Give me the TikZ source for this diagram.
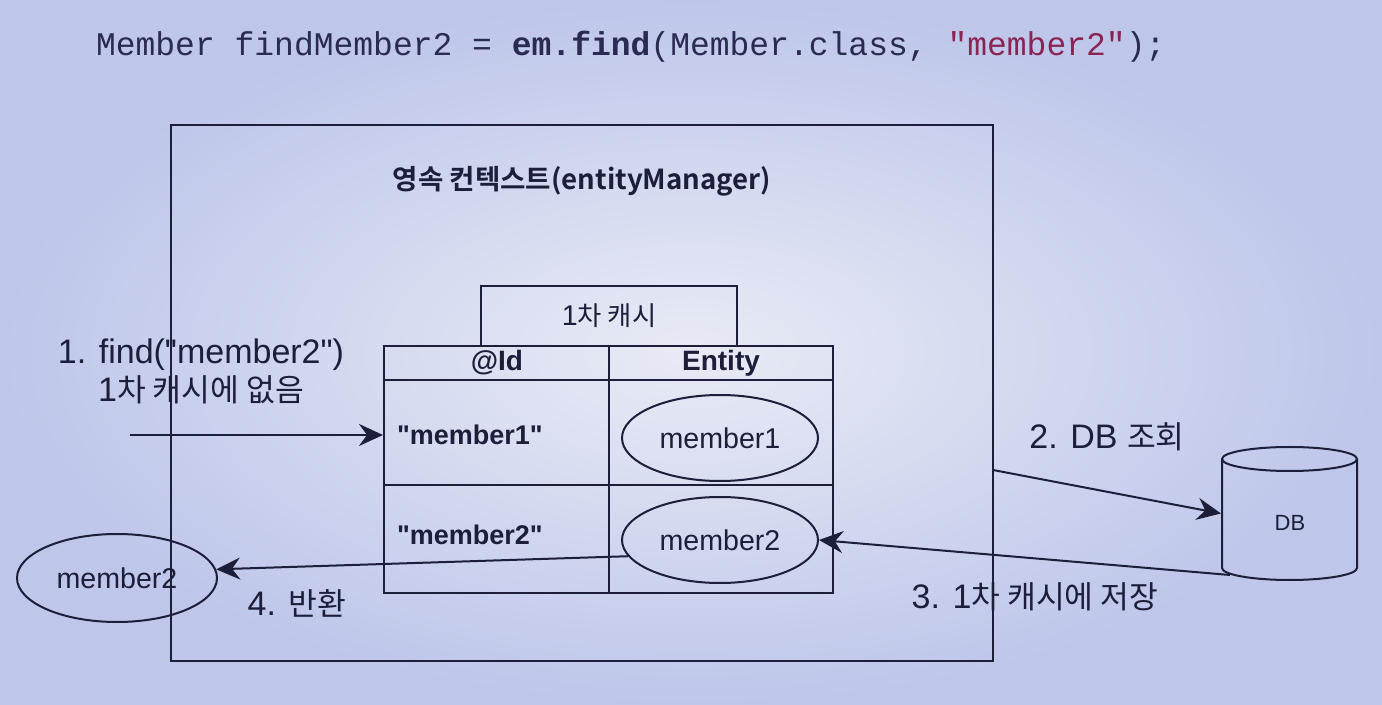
\documentclass[tikz,border=0pt]{standalone}
\usepackage{fontspec}
\setmainfont{Liberation Sans}
\setmonofont{Liberation Mono}
\newfontfamily\kr{Noto Sans CJK KR}[Scale=0.92]
\newfontfamily\krhead{Noto Sans CJK KR Bold}
\usetikzlibrary{arrows.meta,shapes.geometric}
\definecolor{bgin}{HTML}{E8EBF5}
\definecolor{bgout}{HTML}{BEC6EA}
\definecolor{ink}{HTML}{1C1E3A}
\definecolor{codeink}{HTML}{2A2A52}
\definecolor{strcolor}{HTML}{8A2452}

\begin{document}
\begin{tikzpicture}[x=0.5pt,y=-0.5pt,line width=1pt,color=ink,
  every node/.style={inner sep=0pt},
  >={Stealth[length=12pt,width=11pt,inset=4pt]},
  entity/.style={ellipse,draw,minimum width=98pt,minimum height=43pt,font=\fontsize{14.3}{16}\selectfont},
  steplabel/.style={font=\fontsize{17}{19}\selectfont,align=center},
  cellhead/.style={font=\bfseries\fontsize{14}{16}\selectfont},
  cellkey/.style={anchor=west,font=\bfseries\fontsize{13.5}{16}\selectfont}]
  \shade[inner color=bgin,outer color=bgout] (0,0) rectangle (1382,705);
  \useasboundingbox (0,0) rectangle (1382,705);
  % code line
  \node[anchor=base west,text=codeink,font=\ttfamily\fontsize{16.5}{20}\selectfont] (code) at (95,56)
    {Member findMember2 = \textbf{em.find}(Member.class, \textcolor{strcolor}{"member2"});};
  % persistence context
  \node[draw,line width=0.8pt,minimum width=411pt,minimum height=268pt] (pc) at (582,393) {};
  \node[font=\krhead\fontsize{13.8}{16}\selectfont] (title) at (582,181) {영속 컨텍스트(entityManager)};
  % first-level cache
  \node[draw,minimum width=128pt,minimum height=30pt,font=\fontsize{14.3}{16}\selectfont] (tab) at (609,316) {1{\kr 차 캐시}};
  \node[draw,minimum width=224.5pt,minimum height=123.5pt] (cache) at (608.5,469.5) {};
  \draw (384,380) -- (833,380);
  \draw (384,485) -- (833,485);
  \draw (609,346) -- (609,593);
  \node[cellhead] (idhead) at (497,363) {@Id};
  \node[cellhead] (enthead) at (721,363) {Entity};
  \node[cellkey] (key1) at (396,435) {\textquotedbl member1\textquotedbl};
  \node[cellkey] (key2) at (396,535) {\textquotedbl member2\textquotedbl};
  \node[entity] (m1) at (720,438) {member1};
  \node[entity] (m2) at (720,540) {member2};
  % outside
  \node[entity,minimum width=100pt,minimum height=44pt] (result) at (117,578) {member2};
  % database
  \node[minimum width=67.5pt,minimum height=66.5pt] (db) at (1289.5,513.5) {};
  \draw (1222,459) -- (1222,568) arc[start angle=180,end angle=0,x radius=67.5,y radius=12] -- (1357,459);
  \draw (1289.5,459) ellipse[x radius=67.5,y radius=12];
  \node[font=\fontsize{11}{13}\selectfont] (dbname) at (1290,523) {DB};
  % steps
  \coordinate (caller) at (130,435);
  \coordinate (pcout) at (993,470);
  \coordinate (dbfoot) at (1230,575);
  \draw[->] (caller) -- (cache.west |- caller);
  \draw[->] (pcout) -- (db.west);
  \draw[->] (dbfoot) -- (m2.east);
  \draw[->] (m2.190) -- (result.5);
  \node[steplabel] (l1) at (201,371) {1. find(\textquotedbl member2\textquotedbl)\\1{\kr 차 캐시에 없음}};
  \node[steplabel] (l2) at (1107,437) {2. DB {\kr 조회}};
  \node[steplabel] (l3) at (1035,597) {3. 1{\kr 차 캐시에 저장}};
  \node[steplabel] (l4) at (297,603) {4. {\kr 반환}};
\end{tikzpicture}
\end{document}
